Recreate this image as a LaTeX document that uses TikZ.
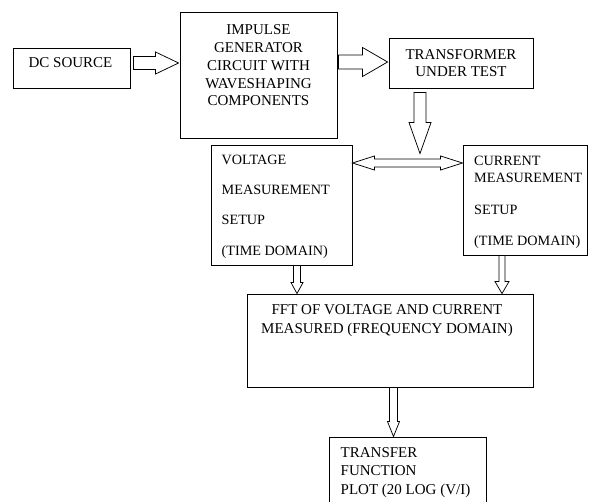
\documentclass[tikz,border=0pt]{standalone}
\usepackage{fontspec}
\setmainfont{Liberation Serif}
\usetikzlibrary{calc}
\tikzset{
  box/.style={draw=black, line width=0.9pt, inner sep=0pt, fill=white},
  txt/.style={inner sep=0pt, font=\fontsize{15}{17.8}\selectfont},
  stxt/.style={inner sep=0pt, font=\fontsize{14.2}{16.6}\selectfont},
  blk/.style={draw=black, line width=0.75pt, line join=miter, fill=white}
}
\newcommand\rarrow[5]{\draw[blk] let \p1=(#1),\p2=(#2) in
  (\x1,{\y1+#3}) -- ({\x2-#5},{\y1+#3}) -- ({\x2-#5},{\y1+#4}) -- (\x2,\y1)
  -- ({\x2-#5},{\y1-#4}) -- ({\x2-#5},{\y1-#3}) -- (\x1,{\y1-#3}) -- cycle;}
\newcommand\darrow[5]{\draw[blk] let \p1=(#1),\p2=(#2) in
  ({\x1+#3},\y1) -- ({\x1+#3},{\y2+#5}) -- ({\x1+#4},{\y2+#5}) -- (\x1,\y2)
  -- ({\x1-#4},{\y2+#5}) -- ({\x1-#3},{\y2+#5}) -- ({\x1-#3},\y1) -- cycle;}
\newcommand\lrarrow[5]{\draw[blk] let \p1=(#1),\p2=(#2) in
  (\x1,\y1) -- ({\x1+#5},{\y1+#4}) -- ({\x1+#5},{\y1+#3}) -- ({\x2-#5},{\y1+#3})
  -- ({\x2-#5},{\y1+#4}) -- (\x2,\y1) -- ({\x2-#5},{\y1-#4}) -- ({\x2-#5},{\y1-#3})
  -- ({\x1+#5},{\y1-#3}) -- ({\x1+#5},{\y1-#4}) -- cycle;}
\begin{document}
\begin{tikzpicture}[x=1pt,y=-1pt]
\useasboundingbox (0,0) rectangle (609,502);
\clip (0,0) rectangle (609,502);
\fill[white] (0,0) rectangle (609,502);

% boxes
\node[box, minimum width=117pt, minimum height=40pt] (dc) at (71.5,68) {};
\node[box, minimum width=157pt, minimum height=126pt] (imp) at (258.5,75) {};
\node[box, minimum width=144pt, minimum height=50pt] (trans) at (461,63) {};
\node[box, minimum width=141pt, minimum height=120pt] (volt) at (281.5,205) {};
\node[box, minimum width=124pt, minimum height=110pt] (curr) at (525,200) {};
\node[box, minimum width=286pt, minimum height=93pt] (fft) at (390,340.5) {};
\node[box, minimum width=157pt, minimum height=78pt] (tf) at (407.5,476) {};

% connector end points
\coordinate (a1) at ($(dc.east)+(3,-5)$);
\coordinate (b1) at ($(imp.west |- a1)+(-1,0)$);
\coordinate (a2) at ($(imp.east)+(1,-13)$);
\coordinate (b2) at ($(trans.west |- a2)+(-1,0)$);
\coordinate (a3) at ($(trans.south)+(-41,4)$);
\coordinate (b3) at ($(a3 |- volt.north)+(0,9)$);
\coordinate (a4) at ($(volt.east)+(0,-42)$);
\coordinate (b4) at (curr.west |- a4);
\coordinate (a5) at ($(volt.south)+(15.5,0)$);
\coordinate (b5) at (a5 |- fft.north);
\coordinate (a6) at ($(curr.south)+(-23,0)$);
\coordinate (b6) at (a6 |- fft.north);
\coordinate (a7) at ($(fft.south)+(3.5,0)$);
\coordinate (b7) at (a7 |- tf.north);

% block arrows
\rarrow{a1}{b1}{6.5pt}{11pt}{23pt}
\rarrow{a2}{b2}{7pt}{14.5pt}{25pt}
\darrow{a3}{b3}{6pt}{11pt}{31pt}
\lrarrow{a4}{b4}{4pt}{7pt}{22pt}
\darrow{a5}{b5}{3.5pt}{6pt}{11pt}
\darrow{a6}{b6}{3pt}{7pt}{12pt}
\darrow{a7}{b7}{4pt}{6pt}{15pt}

% texts (anchor base = baseline of last line)
\node[txt, anchor=base] (dct) at (70.5,68) {DC SOURCE};
\node[txt, anchor=base, align=center] (impt) at (258.5,106) {IMPULSE\\GENERATOR\\CIRCUIT WITH\\WAVESHAPING\\COMPONENTS};
\node[txt, anchor=base, align=center, font=\fontsize{15}{17}\selectfont] (transt) at (461,77) {TRANSFORMER\\UNDER TEST};
\node[stxt, anchor=base west, align=left, font=\fontsize{14.2}{30.2}\selectfont] (voltt) at (221.5,255) {VOLTAGE\\MEASUREMENT\\SETUP\\(TIME DOMAIN)};
\node[stxt, anchor=base west, align=left] (currt) at (474,245) {CURRENT\\MEASUREMENT\\[15.4pt]SETUP\\[14.1pt](TIME DOMAIN)};
\node[txt, anchor=base, align=center, font=\fontsize{15}{19}\selectfont] (fftt) at (387,333.3) {FFT OF VOLTAGE AND CURRENT\\MEASURED (FREQUENCY DOMAIN)};
\node[txt, anchor=base west, align=left, font=\fontsize{15}{18.5}\selectfont] (tft) at (340.5,494.3) {TRANSFER\\FUNCTION\\PLOT (20 LOG (V/I)};
\end{tikzpicture}
\end{document}
